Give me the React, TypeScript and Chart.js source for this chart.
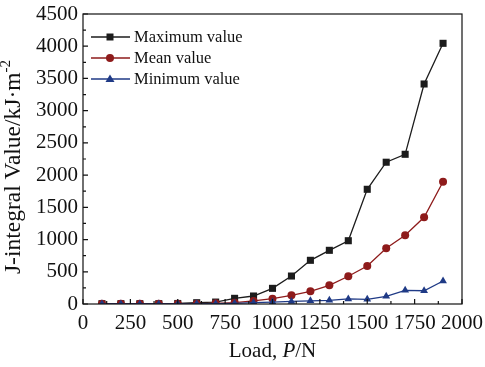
import React, { useEffect, useRef } from 'react';
import { Chart, registerables } from 'chart.js';

Chart.register(...registerables);

const loads = [100, 200, 300, 400, 500, 600, 700, 800, 900, 1000, 1100, 1200, 1300, 1400, 1500, 1600, 1700, 1800, 1900];
const maxValues = [5, 5, 5, 5, 8, 20, 30, 88, 124, 243, 434, 678, 833, 982, 1780, 2200, 2323, 3414, 4045];
const meanValues = [2, 2, 2, 2, 3, 5, 10, 20, 47, 82, 135, 197, 290, 430, 590, 864, 1066, 1345, 1898];
const minValues = [1, 1, 1, 1, 2, 3, 5, 10, 20, 30, 40, 50, 57, 78, 73, 119, 212, 206, 357];
const xTicks = [0, 250, 500, 750, 1000, 1250, 1500, 1750, 2000];
const yTicks = [0, 500, 1000, 1500, 2000, 2500, 3000, 3500, 4000, 4500];
const seriesNames = ['Maximum value', 'Mean value', 'Minimum value'];
const seriesColors = ['#1c1c1c', '#8e1b1b', '#1f3a86'];
const seriesShapes = ['rect', 'circle', 'triangle'];
const xTitleParts = ['Load, ', 'P', '/N'];
const yTitleMain = 'J-integral Value/kJ·m';
const yTitleSup = '-2';

const FONT = "'Liberation Serif', 'Times New Roman', serif";

function drawMarker(ctx: CanvasRenderingContext2D, shape: string, x: number, y: number, color: string) {
  ctx.fillStyle = color;
  ctx.beginPath();
  if (shape === 'rect') {
    ctx.rect(x - 3.5, y - 3.5, 7, 7);
  } else if (shape === 'circle') {
    ctx.arc(x, y, 4, 0, Math.PI * 2);
  } else {
    ctx.moveTo(x, y - 4.5);
    ctx.lineTo(x + 4.5, y + 3);
    ctx.lineTo(x - 4.5, y + 3);
    ctx.closePath();
  }
  ctx.fill();
}

const decorPlugin = {
  id: 'decor',
  afterDraw(chart: any) {
    const { ctx, chartArea, scales } = chart;
    const { left, right, top, bottom } = chartArea;
    const xs = scales.x;
    const ys = scales.y;
    ctx.save();
    ctx.strokeStyle = '#111';
    ctx.lineWidth = 1.2;
    ctx.strokeRect(left, top, right - left, bottom - top);
    ctx.beginPath();
    xTicks.forEach((v, i) => {
      const px = xs.getPixelForValue(v);
      ctx.moveTo(px, bottom);
      ctx.lineTo(px, bottom - 5);
      if (i < xTicks.length - 1) {
        const mx = xs.getPixelForValue((v + xTicks[i + 1]) / 2);
        ctx.moveTo(mx, bottom);
        ctx.lineTo(mx, bottom - 3);
      }
    });
    yTicks.forEach((v, i) => {
      const py = ys.getPixelForValue(v);
      ctx.moveTo(left, py);
      ctx.lineTo(left + 5, py);
      if (i < yTicks.length - 1) {
        const my = ys.getPixelForValue((v + yTicks[i + 1]) / 2);
        ctx.moveTo(left, my);
        ctx.lineTo(left + 3, my);
      }
    });
    ctx.stroke();

    // legend
    ctx.font = `16.5px ${FONT}`;
    ctx.textBaseline = 'middle';
    ctx.textAlign = 'left';
    seriesNames.forEach((name, i) => {
      const ly = top + 23 + i * 21;
      ctx.strokeStyle = seriesColors[i];
      ctx.lineWidth = 1.3;
      ctx.beginPath();
      ctx.moveTo(left + 8, ly);
      ctx.lineTo(left + 47, ly);
      ctx.stroke();
      drawMarker(ctx, seriesShapes[i], left + 27, ly, seriesColors[i]);
      ctx.fillStyle = '#111';
      ctx.fillText(name, left + 51, ly + 1);
    });

    // x title
    const cx = (left + right) / 2;
    const normal = `21px ${FONT}`;
    const italic = `italic 21px ${FONT}`;
    ctx.textBaseline = 'alphabetic';
    ctx.font = normal;
    const w0 = ctx.measureText(xTitleParts[0]).width;
    const w2 = ctx.measureText(xTitleParts[2]).width;
    ctx.font = italic;
    const w1 = ctx.measureText(xTitleParts[1]).width;
    let sx = cx - (w0 + w1 + w2) / 2;
    ctx.fillStyle = '#111';
    ctx.font = normal;
    ctx.fillText(xTitleParts[0], sx, 357);
    sx += w0;
    ctx.font = italic;
    ctx.fillText(xTitleParts[1], sx, 357);
    sx += w1;
    ctx.font = normal;
    ctx.fillText(xTitleParts[2], sx, 357);

    // y title
    ctx.save();
    ctx.translate(20, (top + bottom) / 2 + 8);
    ctx.rotate(-Math.PI / 2);
    ctx.font = `23.5px ${FONT}`;
    const mw = ctx.measureText(yTitleMain).width;
    ctx.font = `15px ${FONT}`;
    const sw = ctx.measureText(yTitleSup).width;
    const start = -(mw + sw) / 2;
    ctx.font = `23.5px ${FONT}`;
    ctx.fillText(yTitleMain, start, 0);
    ctx.font = `15px ${FONT}`;
    ctx.fillText(yTitleSup, start + mw, -10);
    ctx.restore();

    ctx.restore();
  },
};

export default function App() {
  const ref = useRef<HTMLCanvasElement | null>(null);
  useEffect(() => {
    if (!ref.current) return;
    const mk = (vals: number[]) => loads.map((x, i) => ({ x, y: vals[i] }));
    const allValues = [maxValues, meanValues, minValues];
    const chart = new Chart(ref.current, {
      type: 'line',
      data: {
        datasets: seriesNames.map((name, i) => ({
          label: name,
          data: mk(allValues[i]),
          borderColor: seriesColors[i],
          backgroundColor: seriesColors[i],
          borderWidth: 1.3,
          pointStyle: seriesShapes[i] as any,
          pointRadius: i === 0 ? 5 : i === 1 ? 4 : 4.5,
          pointBorderWidth: 0,
          tension: 0,
          order: 2 - i,
        })),
      },
      options: {
        animation: false,
        responsive: false,
        devicePixelRatio: 1,
        layout: { padding: { top: 14, right: 23, left: 0, bottom: 0 } },
        plugins: { legend: { display: false }, tooltip: { enabled: false } },
        scales: {
          x: {
            type: 'linear',
            min: 0,
            max: 2000,
            afterFit: (s: any) => { s.height = 63; s.paddingLeft = 0; s.paddingRight = 0; },
            afterBuildTicks: (s: any) => { s.ticks = xTicks.map((v) => ({ value: v })); },
            grid: { display: false, drawTicks: false },
            border: { display: false },
            ticks: { color: '#111', padding: 7, maxRotation: 0, autoSkip: false, callback: (v: any) => String(v), font: { family: FONT, size: 21 } },
          },
          y: {
            type: 'linear',
            min: 0,
            max: 4500,
            afterFit: (s: any) => { s.width = 83; s.paddingTop = 0; s.paddingBottom = 0; },
            afterBuildTicks: (s: any) => { s.ticks = yTicks.map((v) => ({ value: v })); },
            grid: { display: false, drawTicks: false },
            border: { display: false },
            ticks: { color: '#111', padding: 5, autoSkip: false, callback: (v: any) => String(v), font: { family: FONT, size: 21 } },
          },
        },
      },
      plugins: [decorPlugin],
    });
    return () => chart.destroy();
  }, []);
  return (
    <div style={{ position: 'absolute', left: 0, top: 0, width: 485, height: 367, background: '#fff' }}>
      <canvas ref={ref} width={485} height={367} style={{ width: 485, height: 367, display: 'block' }} />
    </div>
  );
}
